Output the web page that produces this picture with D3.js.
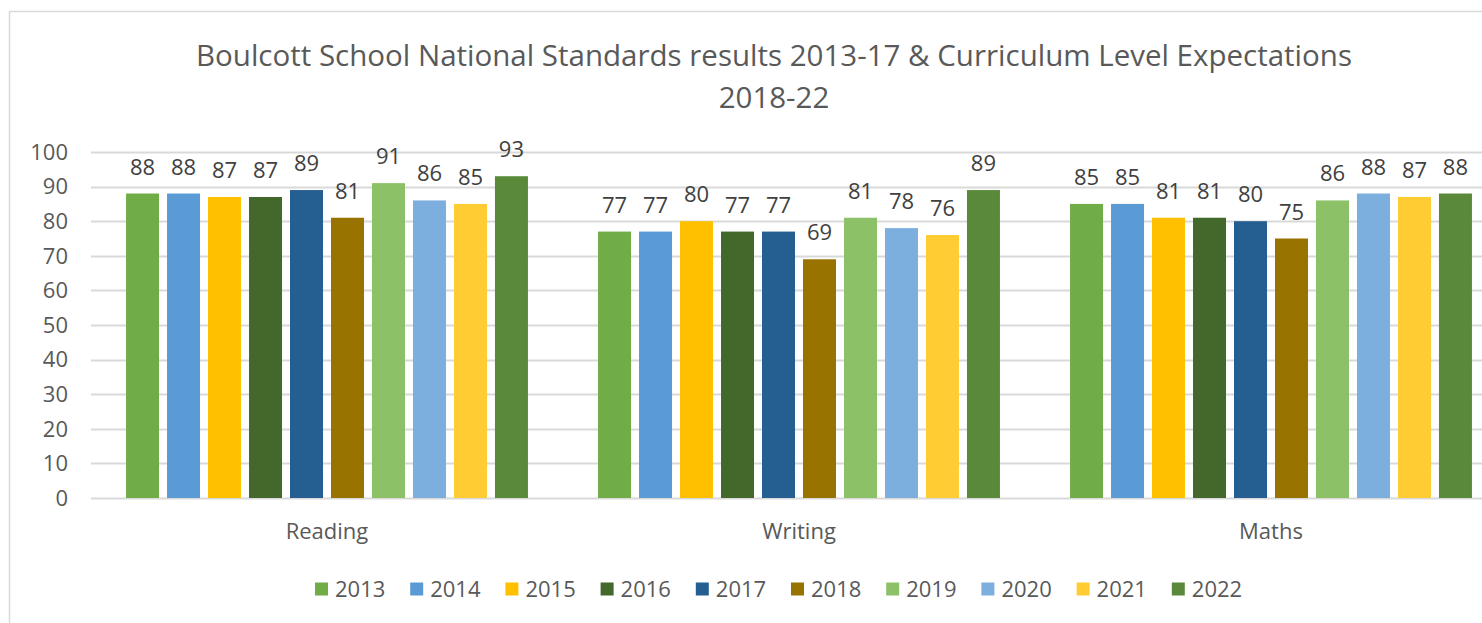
<!DOCTYPE html>
<html>
<head>
<meta charset="utf-8">
<script src="https://cdn.jsdelivr.net/npm/d3@7"></script>
<style>
  body { margin: 0; background: #fff; }
  text { font-family: "Open Sans", "Noto Sans", sans-serif; }
</style>
</head>
<body>
<svg id="chart"></svg>
<script>
var width = 1482,
    height = 623;

var subjects = ["Reading", "Writing", "Maths"];
var years = ["2013", "2014", "2015", "2016", "2017", "2018", "2019", "2020", "2021", "2022"];
var reading = [88, 88, 87, 87, 89, 81, 91, 86, 85, 93];
var writing = [77, 77, 80, 77, 77, 69, 81, 78, 76, 89];
var maths = [85, 85, 81, 81, 80, 75, 86, 88, 87, 88];
var yTicks = [0, 10, 20, 30, 40, 50, 60, 70, 80, 90, 100];
var colours = ["#70ad47", "#5b9bd5", "#ffc000", "#43682b", "#255e91",
               "#997300", "#8cc168", "#7cafdd", "#ffcd33", "#5a8a39"];

var values = [reading, writing, maths];

var svg = d3.select("#chart")
    .attr("width", width)
    .attr("height", height);

// chart border (right and bottom are cut off in the picture)
svg.append("path")
    .attr("d", "M9.5," + height + "V11.5H" + width)
    .attr("fill", "none")
    .attr("stroke", "#d9d9d9")
    .attr("stroke-width", 1.5);

var x0 = d3.scaleBand()
    .domain(subjects)
    .range([91, 1507]);

var x1 = d3.scaleBand()
    .domain(years)
    .range([0, x0.bandwidth()])
    .paddingInner(0.195)
    .paddingOuter(0.855);

var y = d3.scaleLinear()
    .domain([0, 100])
    .range([498, 152]);

var colour = d3.scaleOrdinal()
    .domain(years)
    .range(colours);

// title
var title = svg.append("text")
    .attr("x", 774)
    .attr("y", 66)
    .attr("text-anchor", "middle")
    .attr("fill", "#595959")
    .style("font-size", "29.5px");
title.append("tspan").attr("x", 774).text("Boulcott School National Standards results 2013-17 & Curriculum Level Expectations");
title.append("tspan").attr("x", 774).attr("dy", 42).text("2018-22");

// gridlines
svg.append("g")
    .selectAll("line")
    .data(yTicks)
    .enter().append("line")
    .attr("x1", 91)
    .attr("x2", width)
    .attr("y1", function(d) { return Math.round(y(d)) + 0.5; })
    .attr("y2", function(d) { return Math.round(y(d)) + 0.5; })
    .attr("stroke", "#d9d9d9")
    .attr("stroke-width", 2);

// y axis labels
svg.append("g")
    .selectAll("text")
    .data(yTicks)
    .enter().append("text")
    .attr("x", 68)
    .attr("y", function(d) { return y(d); })
    .attr("dy", "0.35em")
    .attr("text-anchor", "end")
    .attr("fill", "#595959")
    .style("font-size", "22px")
    .text(function(d) { return d; });

// bars
var groups = svg.append("g")
    .selectAll("g")
    .data(subjects)
    .enter().append("g")
    .attr("transform", function(d) { return "translate(" + x0(d) + ",0)"; });

var bars = groups.selectAll("g")
    .data(function(d, i) {
        return years.map(function(yr, j) { return {year: yr, value: values[i][j]}; });
    })
    .enter().append("g");

bars.append("rect")
    .attr("x", function(d) { return x1(d.year); })
    .attr("y", function(d) { return y(d.value); })
    .attr("width", x1.bandwidth())
    .attr("height", function(d) { return y(0) - y(d.value); })
    .attr("fill", function(d) { return colour(d.year); });

bars.append("text")
    .attr("x", function(d) { return x1(d.year) + x1.bandwidth() / 2; })
    .attr("y", function(d) { return y(d.value) - 19; })
    .attr("text-anchor", "middle")
    .attr("fill", "#404040")
    .style("font-size", "22px")
    .text(function(d) { return d.value; });

// category labels
svg.append("g")
    .selectAll("text")
    .data(subjects)
    .enter().append("text")
    .attr("x", function(d) { return x0(d) + x0.bandwidth() / 2; })
    .attr("y", 531)
    .attr("dy", "0.35em")
    .attr("text-anchor", "middle")
    .attr("fill", "#595959")
    .style("font-size", "22px")
    .text(function(d) { return d; });

// legend
var legendStep = 95.2;
var legendX = 315;
var legend = svg.append("g")
    .selectAll("g")
    .data(years)
    .enter().append("g")
    .attr("transform", function(d, i) { return "translate(" + (legendX + i * legendStep) + ",589)"; });

legend.append("rect")
    .attr("x", 0)
    .attr("y", -6.5)
    .attr("width", 13)
    .attr("height", 13)
    .attr("fill", function(d) { return colour(d); });

legend.append("text")
    .attr("x", 20)
    .attr("y", 0)
    .attr("dy", "0.35em")
    .attr("fill", "#595959")
    .style("font-size", "22px")
    .text(function(d) { return d; });
</script>
</body>
</html>
